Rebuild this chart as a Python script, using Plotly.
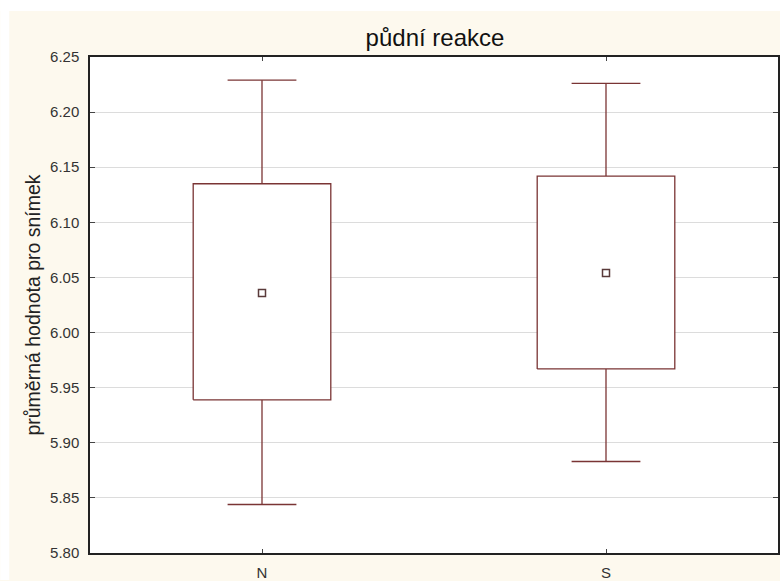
import plotly.graph_objects as go

# Mean, ±SE box and ±1.96·SE whiskers for each group
categories = ["N", "S"]
means = [6.036, 6.054]
box_lo = [5.939, 5.967]
box_hi = [6.135, 6.142]
whisk_lo = [5.844, 5.883]
whisk_hi = [6.229, 6.226]
y_ticks = [5.80, 5.85, 5.90, 5.95, 6.00, 6.05, 6.10, 6.15, 6.20, 6.25]

LINE = "#7a3434"
MEAN = "#5a3a3a"
CREAM = "#fdf9ee"
BOX_HALF = 0.2
CAP_HALF = 0.1
FONT = "Liberation Sans, Arial, sans-serif"

fig = go.Figure()

for i, cat in enumerate(categories):
    # whiskers with caps
    for end, edge in ((whisk_hi[i], box_hi[i]), (whisk_lo[i], box_lo[i])):
        fig.add_trace(go.Scatter(
            x=[i, i, None, i - CAP_HALF, i + CAP_HALF],
            y=[edge, end, None, end, end],
            mode="lines", line=dict(color=LINE, width=1.3),
            hoverinfo="skip", showlegend=False,
        ))
    # box
    fig.add_trace(go.Scatter(
        x=[i - BOX_HALF, i + BOX_HALF, i + BOX_HALF, i - BOX_HALF, i - BOX_HALF],
        y=[box_lo[i], box_lo[i], box_hi[i], box_hi[i], box_lo[i]],
        mode="lines", fill="toself", fillcolor="white",
        line=dict(color=LINE, width=1.3),
        hoverinfo="skip", showlegend=False,
    ))

# mean markers
fig.add_trace(go.Scatter(
    x=list(range(len(categories))), y=means, mode="markers",
    marker=dict(symbol="square-open", size=7, color=MEAN, line=dict(width=1.5)),
    showlegend=False,
))

# white strips at the top and left edge of the page
pw, ph, ml, mt, mb = 690, 497, 90, 57, 27
x_left = -ml / pw
y_top = 1 + mt / ph
y_bot = -mb / ph
fig.add_shape(type="rect", xref="paper", yref="paper", layer="below",
              x0=x_left, x1=x_left + 9 / pw, y0=y_bot, y1=y_top,
              fillcolor="white", line=dict(width=0))
fig.add_shape(type="rect", xref="paper", yref="paper", layer="below",
              x0=x_left, x1=1.2, y0=y_top - 11 / ph, y1=y_top,
              fillcolor="white", line=dict(width=0))

axis_font = dict(family=FONT, size=15, color="#333333")

fig.update_layout(
    width=780, height=581,
    margin=dict(l=ml, r=0, t=mt, b=mb),
    paper_bgcolor=CREAM, plot_bgcolor="white",
    title=dict(text="půdní reakce", x=(ml + pw / 2) / 780, xanchor="center",
               y=1 - 38 / 581, yanchor="middle",
               font=dict(family=FONT, size=24, color="#111111")),
    xaxis=dict(
        range=[-0.5, 1.5], tickvals=list(range(len(categories))), ticktext=categories,
        showgrid=False, zeroline=False,
        showline=True, linecolor="#222222", linewidth=1.5, mirror="ticks",
        ticks="inside", ticklen=4, tickcolor="#444444",
        tickfont=axis_font, ticklabelstandoff=5,
    ),
    yaxis=dict(
        range=[5.80, 6.25], tickvals=y_ticks, tickformat=".2f",
        showgrid=True, gridcolor="#dcdcdc", gridwidth=1, zeroline=False,
        showline=True, linecolor="#222222", linewidth=1.5, mirror="ticks",
        ticks="inside", ticklen=5, tickcolor="#444444",
        tickfont=axis_font, ticklabelstandoff=6,
        title=dict(text="průměrná hodnota pro snímek", standoff=4,
                   font=dict(family=FONT, size=19.5, color="#222222")),
    ),
)

fig.write_html("out.html")
